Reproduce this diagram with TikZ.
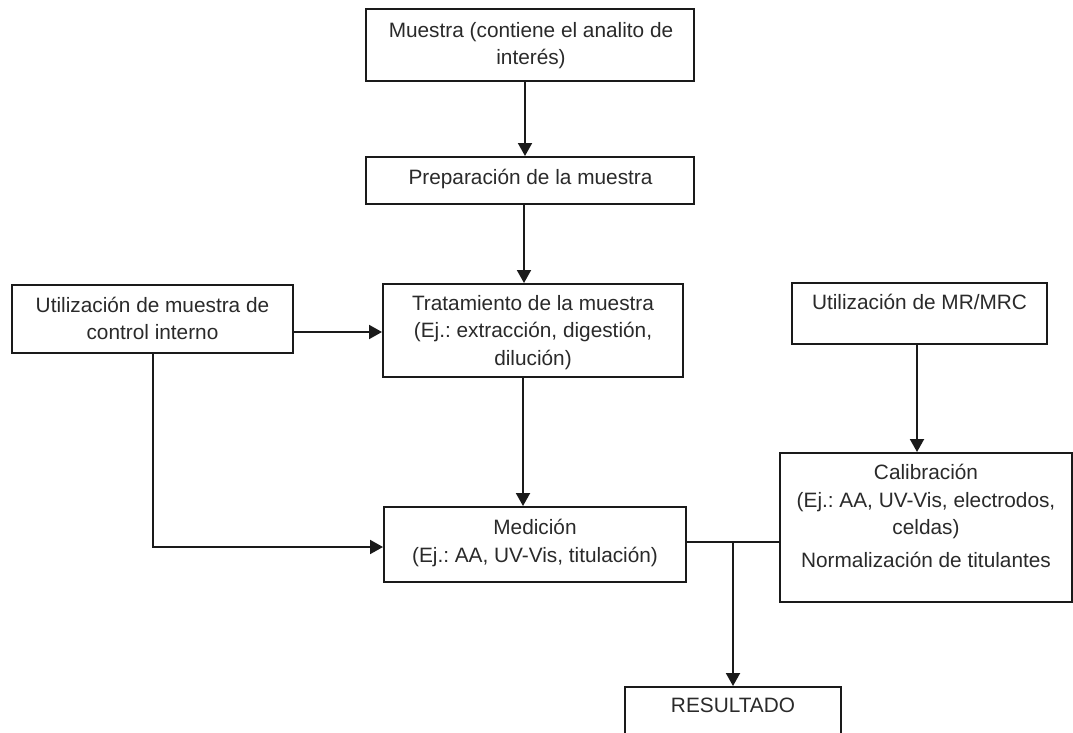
\documentclass[tikz,border=0pt]{standalone}
\usepackage{fontspec}
\setmainfont{Liberation Sans}
\frenchspacing
\usetikzlibrary{arrows.meta,calc}
\definecolor{inkline}{HTML}{1A1A1A}
\definecolor{inktext}{HTML}{2A2A2A}
\begin{document}
\begin{tikzpicture}[x=1pt,y=-1pt,
  box/.style={draw=inkline, line width=2pt, rectangle, inner sep=0pt},
  % labels are placed by the baseline of their last line
  lbl/.style={text=inktext, align=center, inner sep=0pt, anchor=base,
              font=\fontsize{20.8}{27.5}\selectfont},
  link/.style={draw=inkline, line width=2pt},
  arr/.style={link, -{Triangle[length=13pt,width=14pt]}}]
\useasboundingbox[fill=white] (0,0) rectangle (1073,733);

% boxes
\node[box, minimum width=328pt, minimum height=72pt]  (muestra) at (530,45)    {};
\node[box, minimum width=328pt, minimum height=47pt]  (prep)    at (530,180.5) {};
\node[box, minimum width=300pt, minimum height=93pt]  (trat)    at (533,330.5) {};
\node[box, minimum width=281pt, minimum height=68pt]  (ctrl)    at (152.5,319) {};
\node[box, minimum width=255pt, minimum height=61pt]  (mr)      at (919.5,313.5) {};
\node[box, minimum width=292pt, minimum height=149pt] (calib)   at (926,527.5) {};
\node[box, minimum width=302pt, minimum height=75pt]  (med)     at (535,544.5) {};
\node[box, minimum width=216pt, minimum height=83pt]  (res)     at (733,728.5) {};

% labels
\node[lbl] (muestra-t) at (531,65)    {Muestra (contiene el analito de\\interés)};
\node[lbl] (prep-t)    at (530.5,184) {Preparación de la muestra};
\node[lbl] (trat-t)    at (533,365)   {Tratamiento de la muestra\\(Ej.: extracción, digestión,\\dilución)};
\node[lbl] (ctrl-t)    at (152.5,339.5) {Utilización de muestra de\\control interno};
\node[lbl] (mr-t)      at (919.5,309) {Utilización de MR/MRC};
\node[lbl] (calib-t)   at (926,567)   {Calibración\\(Ej.: AA, UV-Vis, electrodos,\\celdas)\\[5pt]Normalización de titulantes};
\node[lbl] (med-t)     at (535,562)   {Medición\\(Ej.: AA, UV-Vis, titulación)};
\node[lbl] (res-t)     at (733,712)   {RESULTADO};

% connectors
\draw[arr] ([xshift=-5pt]muestra.south) -- ([xshift=-5pt]prep.north);
\coordinate (a2) at ($(prep.south)+(-6,0)$);
\draw[arr] (a2) -- (a2 |- trat.north);
\coordinate (c1) at ($(ctrl.east)+(0,13)$);
\draw[arr] (c1) -- (c1 -| trat.west);
\coordinate (a3) at ($(trat.south)+(-10,0)$);
\draw[arr] (a3) -- (a3 |- med.north);
\coordinate (c2) at ($(med.west)+(0,2.5)$);
\draw[arr] (ctrl.south) |- (c2);
\coordinate (r1) at ($(mr.south)+(-2.5,0)$);
\draw[arr] (r1) -- (r1 |- calib.north);
\coordinate (m1) at ($(med.east)+(0,-2.5)$);
\draw[link] (m1) -- (m1 -| calib.west);
\coordinate (j) at (m1 -| res.north);
\draw[arr] (j) -- (res.north);
\end{tikzpicture}
\end{document}
